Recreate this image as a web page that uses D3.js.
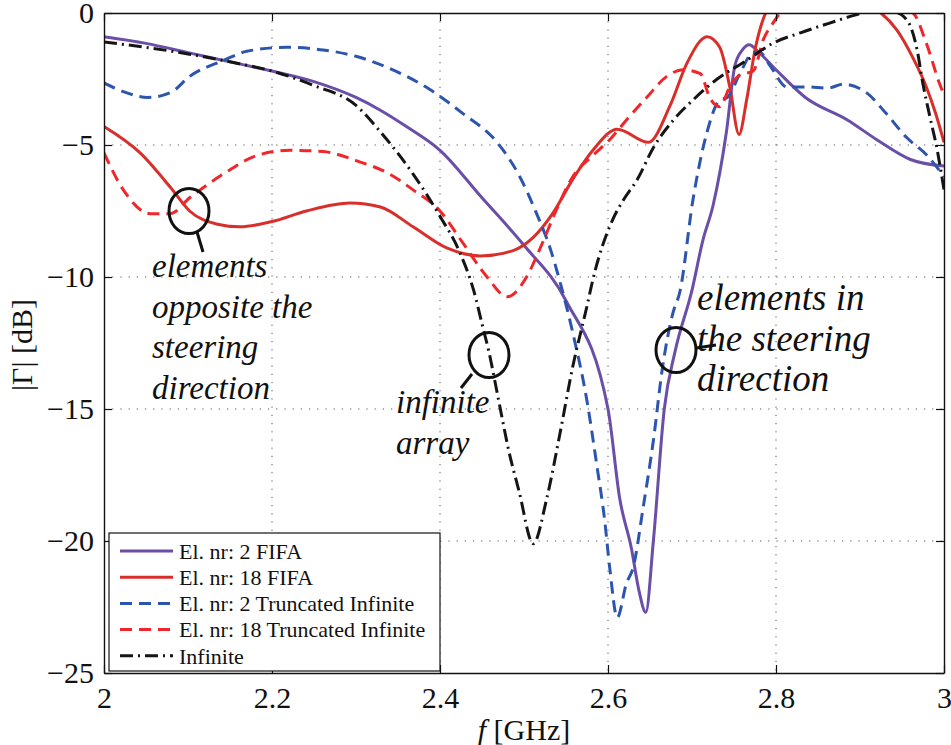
<!doctype html>
<html lang="en">
<head>
  <meta charset="UTF-8">
  <title>Reflection coefficient</title>
  <script src="https://cdn.jsdelivr.net/npm/d3@7"></script>
  <style>
    body { margin: 0; background: #fff; }
    text { font-family: "Liberation Serif", "DejaVu Serif", serif; fill: #111; }
  </style>
</head>
<body>
<div id="container"></div>
<script type="text/javascript">
// frequency [GHz] / |Gamma| [dB] pairs
var fifa2F  = [2.0, 2.05, 2.1, 2.15, 2.2, 2.25, 2.3, 2.33, 2.36, 2.4, 2.45, 2.5, 2.55, 2.6, 2.614, 2.628, 2.637, 2.645, 2.654, 2.667, 2.68, 2.7, 2.713, 2.725, 2.741, 2.751, 2.76, 2.768, 2.78, 2.8, 2.835, 2.885, 2.92, 2.96, 3.0];
var fifa2dB = [-0.9, -1.15, -1.5, -1.85, -2.2, -2.6, -3.2, -3.7, -4.3, -5.2, -7.0, -8.8, -10.9, -15.0, -18.4, -20.3, -21.9, -22.7, -20.0, -15.0, -12.8, -10.5, -8.6, -7.3, -4.5, -2.0, -1.4, -1.2, -1.5, -2.15, -3.2, -4.05, -4.8, -5.55, -5.8];

var fifa18F  = [2.0, 2.043, 2.079, 2.102, 2.135, 2.162, 2.2, 2.241, 2.293, 2.329, 2.368, 2.408, 2.448, 2.487, 2.511, 2.534, 2.558, 2.582, 2.611, 2.648, 2.674, 2.694, 2.718, 2.733, 2.745, 2.756, 2.765, 2.775, 2.782, 2.79, 2.85, 2.9, 2.925, 2.944, 2.963, 2.979, 2.99, 3.0];
var fifa18dB = [-4.3, -5.3, -6.6, -7.5, -8.0, -8.1, -7.9, -7.5, -7.2, -7.35, -8.1, -8.9, -9.2, -9.0, -8.5, -7.6, -6.3, -5.2, -4.4, -4.9, -3.5, -1.9, -0.9, -1.3, -2.8, -4.6, -3.3, -1.4, -0.5, 0.1, 0.8, 0.4, 0.0, -0.65, -1.7, -2.8, -3.8, -4.9];

var trunc2F  = [2.0, 2.025, 2.052, 2.08, 2.102, 2.142, 2.17, 2.218, 2.261, 2.301, 2.34, 2.388, 2.427, 2.468, 2.495, 2.515, 2.531, 2.543, 2.558, 2.575, 2.587, 2.596, 2.602, 2.611, 2.622, 2.63, 2.642, 2.654, 2.665, 2.677, 2.686, 2.701, 2.718, 2.733, 2.742, 2.757, 2.773, 2.781, 2.793, 2.813, 2.837, 2.861, 2.88, 2.907, 2.931, 2.955, 2.98, 3.0];
var trunc2dB = [-2.65, -3.0, -3.2, -3.0, -2.4, -1.8, -1.45, -1.3, -1.4, -1.65, -2.1, -2.9, -3.8, -4.9, -6.2, -7.6, -8.9, -10.2, -12.1, -14.7, -17.2, -19.2, -21.0, -22.9, -21.6, -21.0, -18.7, -16.2, -13.4, -11.4, -10.5, -7.1, -4.5, -3.3, -3.2, -2.3, -1.5, -1.5, -2.0, -2.8, -2.8, -2.85, -2.7, -3.0, -3.8, -4.7, -5.4, -6.2];

var trunc18F  = [2.0, 2.023, 2.055, 2.079, 2.102, 2.142, 2.182, 2.221, 2.261, 2.301, 2.34, 2.368, 2.4, 2.427, 2.456, 2.48, 2.503, 2.518, 2.538, 2.558, 2.582, 2.602, 2.622, 2.646, 2.67, 2.689, 2.71, 2.721, 2.733, 2.745, 2.757, 2.773, 2.785, 2.796, 2.805, 2.85, 2.9, 2.963, 2.979, 2.995, 3.0];
var trunc18dB = [-5.3, -6.7, -7.6, -7.6, -7.0, -6.1, -5.4, -5.2, -5.25, -5.6, -6.1, -6.7, -7.5, -8.7, -10.0, -10.75, -10.0, -9.0, -7.5, -6.2, -5.4, -4.8, -4.05, -3.2, -2.4, -2.15, -2.3, -3.2, -3.55, -2.8, -2.35, -2.2, -1.0, -0.4, 0.0, 0.8, 0.6, 0.0, -1.15, -2.7, -3.1];

var infF  = [2.0, 2.05, 2.1, 2.15, 2.2, 2.25, 2.3, 2.329, 2.368, 2.4, 2.424, 2.44, 2.451, 2.458, 2.47, 2.482, 2.494, 2.511, 2.527, 2.543, 2.558, 2.575, 2.582, 2.606, 2.618, 2.635, 2.654, 2.678, 2.701, 2.73, 2.765, 2.796, 2.829, 2.862, 2.894, 2.92, 2.94, 2.956, 2.968, 2.975, 2.983, 2.992, 3.0];
var infdB = [-1.1, -1.3, -1.55, -1.85, -2.2, -2.75, -3.5, -4.5, -6.1, -7.7, -9.1, -10.5, -11.9, -12.8, -14.7, -16.6, -18.1, -20.1, -18.4, -15.9, -13.4, -11.1, -10.1, -7.8, -7.1, -6.3, -5.1, -4.05, -3.3, -2.5, -1.8, -1.15, -0.75, -0.4, -0.08, 0.1, 0.05, -0.27, -1.4, -2.7, -3.9, -5.2, -6.7];

var seriesNames = ['El. nr: 2 FIFA', 'El. nr: 18 FIFA', 'El. nr: 2 Truncated Infinite', 'El. nr: 18 Truncated Infinite', 'Infinite'];
var xTicks = [2, 2.2, 2.4, 2.6, 2.8, 3];
var yTicks = [0, -5, -10, -15, -20, -25];

var series = [
  { name: seriesNames[0], f: fifa2F,   db: fifa2dB,   color: '#6a4ea8', dash: null },
  { name: seriesNames[1], f: fifa18F,  db: fifa18dB,  color: '#d92f2b', dash: null },
  { name: seriesNames[2], f: trunc2F,  db: trunc2dB,  color: '#2d55ad', dash: '12,7' },
  { name: seriesNames[3], f: trunc18F, db: trunc18dB, color: '#f0262a', dash: '12,7' },
  { name: seriesNames[4], f: infF,     db: infdB,     color: '#151515', dash: '13,5,2,5' }
];

var W = 951, H = 745;
var plotL = 104, plotR = 944, plotT = 13, plotB = 673;

var svg = d3.select('#container').append('svg')
  .attr('width', W)
  .attr('height', H);

var x = d3.scaleLinear().domain([2, 3]).range([plotL, plotR]);
var y = d3.scaleLinear().domain([-25, 0]).range([plotB, plotT]);

svg.append('defs').append('clipPath').attr('id', 'plotclip')
  .append('rect')
  .attr('x', plotL).attr('y', plotT)
  .attr('width', plotR - plotL).attr('height', plotB - plotT);

// dotted grid
var grid = svg.append('g');
xTicks.slice(1, -1).forEach(function(t) {
  grid.append('line')
    .attr('x1', x(t)).attr('x2', x(t))
    .attr('y1', plotT).attr('y2', plotB)
    .attr('stroke', '#555').attr('stroke-width', 1)
    .attr('stroke-dasharray', '1.2,7');
});
yTicks.slice(1, -1).forEach(function(t) {
  grid.append('line')
    .attr('x1', plotL).attr('x2', plotR)
    .attr('y1', y(t)).attr('y2', y(t))
    .attr('stroke', '#555').attr('stroke-width', 1)
    .attr('stroke-dasharray', '1.2,7');
});

// curves
var line = d3.line()
  .x(function(d) { return x(d[0]); })
  .y(function(d) { return y(d[1]); })
  .curve(d3.curveMonotoneX);

var curves = svg.append('g').attr('clip-path', 'url(#plotclip)');
series.forEach(function(s) {
  var pts = s.f.map(function(f, i) { return [f, s.db[i]]; });
  var p = curves.append('path')
    .attr('d', line(pts))
    .attr('fill', 'none')
    .attr('stroke', s.color)
    .attr('stroke-width', 3)
    .attr('stroke-linejoin', 'round');
  if (s.dash) p.attr('stroke-dasharray', s.dash);
});

// axes, MATLAB style box with inward ticks
var fmt = function(d) { return d < 0 ? '\u2212' + Math.abs(d) : String(d); };
var xAxis = svg.append('g').attr('transform', 'translate(0,' + plotB + ')')
  .call(d3.axisBottom(x).tickValues(xTicks).tickSizeInner(-8).tickSizeOuter(0).tickPadding(14).tickFormat(d3.format('')));
var yAxis = svg.append('g').attr('transform', 'translate(' + plotL + ',0)')
  .call(d3.axisLeft(y).tickValues(yTicks).tickSizeInner(-8).tickSizeOuter(0).tickPadding(10).tickFormat(fmt));
svg.append('g').attr('transform', 'translate(0,' + plotT + ')')
  .call(d3.axisTop(x).tickValues(xTicks).tickSizeInner(-8).tickSizeOuter(0).tickFormat(''));
svg.append('g').attr('transform', 'translate(' + plotR + ',0)')
  .call(d3.axisRight(y).tickValues(yTicks).tickSizeInner(-8).tickSizeOuter(0).tickFormat(''));

svg.selectAll('.domain').attr('stroke', '#111').attr('stroke-width', 1.4);
svg.selectAll('.tick line').attr('stroke', '#111').attr('stroke-width', 1.2);
svg.selectAll('.tick text')
  .style('font-family', '"Liberation Serif", serif')
  .style('font-size', '30px')
  .attr('fill', '#111');
xAxis.selectAll('.tick text').attr('dy', '0.71em');

// axis titles
svg.append('text')
  .attr('transform', 'translate(32,' + ((plotT + plotB) / 2 + 2) + ') rotate(-90)')
  .attr('text-anchor', 'middle')
  .style('font-size', '30px')
  .text('|\u0393| [dB]');

var xt = svg.append('text')
  .attr('x', (plotL + plotR) / 2)
  .attr('y', 740)
  .attr('text-anchor', 'middle')
  .style('font-size', '30px');
xt.append('tspan').style('font-style', 'italic').text('f');
xt.append('tspan').text(' [GHz]');

// annotations
var notes = [
  { cx: 189, cy: 211, lx1: 197, ly1: 232, lx2: 203, ly2: 252, tx: 152, ty: 277, size: 33, lines: ['elements', 'opposite the', 'steering', 'direction'] },
  { cx: 489, cy: 355, lx1: 472, ly1: 374, lx2: 461, ly2: 388, tx: 396, ty: 413, size: 33, lines: ['infinite', 'array'] },
  { cx: 676, cy: 350, lx1: 696, ly1: 348, lx2: 716, ly2: 345, tx: 697, ty: 310, size: 37, lines: ['elements in', 'the steering', 'direction'] }
];
notes.forEach(function(n) {
  svg.append('ellipse')
    .attr('cx', n.cx).attr('cy', n.cy)
    .attr('rx', 20).attr('ry', 22.5)
    .attr('fill', 'none').attr('stroke', '#111').attr('stroke-width', 3);
  svg.append('line')
    .attr('x1', n.lx1).attr('y1', n.ly1)
    .attr('x2', n.lx2).attr('y2', n.ly2)
    .attr('stroke', '#111').attr('stroke-width', 3);
  n.lines.forEach(function(t, i) {
    svg.append('text')
      .attr('x', n.tx).attr('y', n.ty + i * 40.5)
      .style('font-size', n.size + 'px')
      .style('font-style', 'italic')
      .text(t);
  });
});

// legend
var lg = svg.append('g');
lg.append('rect')
  .attr('x', 109).attr('y', 533)
  .attr('width', 331).attr('height', 138)
  .attr('fill', '#fff').attr('stroke', '#111').attr('stroke-width', 1.2);
series.forEach(function(s, i) {
  var ly = 551 + i * 26.2;
  var l = lg.append('line')
    .attr('x1', 120).attr('x2', 173)
    .attr('y1', ly).attr('y2', ly)
    .attr('stroke', s.color).attr('stroke-width', 3);
  if (s.dash) l.attr('stroke-dasharray', s.dash);
  lg.append('text')
    .attr('x', 179).attr('y', ly)
    .attr('dy', '0.35em')
    .style('font-size', '22px')
    .text(s.name);
});
</script>
</body>
</html>
